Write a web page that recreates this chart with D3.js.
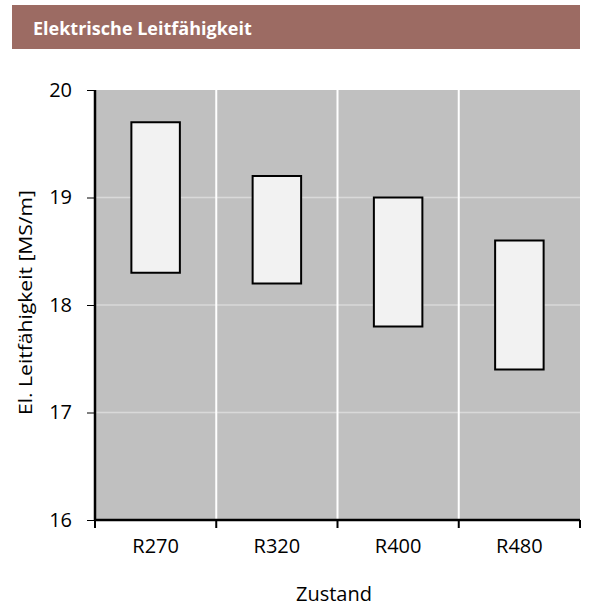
<!DOCTYPE html>
<html><head><meta charset="utf-8">
<script src="https://cdn.jsdelivr.net/npm/d3@7"></script>
<style>body{margin:0;background:#fff}svg{display:block}</style>
</head><body>
<svg id="c" width="590" height="606"></svg>
<script>
const categories = ["R270","R320","R400","R480"];
const lowValues = [18.3,18.2,17.8,17.4];
const highValues = [19.7,19.2,19.0,18.6];
const yTicks = [16,17,18,19,20];
const title = "Elektrische Leitfähigkeit";
const yLabel = "El. Leitfähigkeit [MS/m]";
const xLabel = "Zustand";

const svg = d3.select("#c");
const font = "'Open Sans', Calibri, sans-serif";
svg.append("rect").attr("x",12).attr("y",5).attr("width",568).attr("height",44).attr("fill","#9c6b63");
svg.append("text").attr("x",33).attr("y",35).attr("fill","#fff").attr("font-family",font)
  .attr("font-weight","bold").attr("font-size",18).text(title);

const L=95,R=580,T=90,B=520;
const x = d3.scaleBand().domain(categories).range([L,R]);
const y = d3.scaleLinear().domain([16,20]).range([B,T]);

svg.append("rect").attr("x",L).attr("y",T).attr("width",R-L).attr("height",B-T).attr("fill","#c0c0c0");
svg.selectAll(".hg").data(yTicks.slice(1,4)).enter().append("line")
  .attr("x1",L).attr("x2",R).attr("y1",d=>y(d)).attr("y2",d=>y(d))
  .attr("stroke","#d9d9d9").attr("stroke-width",1.5);
svg.selectAll(".vg").data(categories.slice(1)).enter().append("line")
  .attr("x1",d=>x(d)).attr("x2",d=>x(d)).attr("y1",T).attr("y2",B)
  .attr("stroke","#fff").attr("stroke-width",2);

const bw = x.bandwidth()*0.4;
svg.selectAll(".bx").data(categories).enter().append("rect")
  .attr("x",(d)=>x(d)+x.bandwidth()/2-bw/2).attr("width",bw)
  .attr("y",(d,i)=>y(highValues[i])).attr("height",(d,i)=>y(lowValues[i])-y(highValues[i]))
  .attr("fill","#f2f2f2").attr("stroke","#000").attr("stroke-width",2);

// y axis
const ya = svg.append("g").attr("transform",`translate(${L},0)`)
  .call(d3.axisLeft(y).tickValues(yTicks).tickSize(8).tickPadding(15).tickFormat(d3.format("d")));
ya.select(".domain").attr("stroke","#000").attr("stroke-width",2.5).attr("d",`M0,${T}V${B}`);
ya.selectAll(".tick line").attr("stroke","#000").attr("stroke-width",1);
ya.selectAll("text").attr("font-family",font).attr("font-size",20).attr("fill","#000");

// x axis
const xa = svg.append("g").attr("transform",`translate(0,${B})`)
  .call(d3.axisBottom(x).tickSize(0).tickPadding(19));
xa.select(".domain").attr("stroke","#000").attr("stroke-width",2.5).attr("d",`M${L},0H${R}`);
xa.selectAll("text").attr("font-family",font).attr("font-size",20).attr("fill","#000");
const bounds = categories.map(c=>x(c)).concat([R]);
xa.selectAll(".bt").data(bounds).enter().append("line")
  .attr("x1",d=>d).attr("x2",d=>d).attr("y1",0).attr("y2",8).attr("stroke","#000").attr("stroke-width",2);

svg.append("text").attr("transform",`translate(32,${302.5}) rotate(-90)`).attr("text-anchor","middle")
  .attr("font-family",font).attr("font-size",19).attr("textLength",225).attr("lengthAdjust","spacingAndGlyphs")
  .attr("fill","#000").text(yLabel);
svg.append("text").attr("x",334).attr("y",601).attr("text-anchor","middle")
  .attr("font-family",font).attr("font-size",20).attr("fill","#000").text(xLabel);
</script>
</body></html>
